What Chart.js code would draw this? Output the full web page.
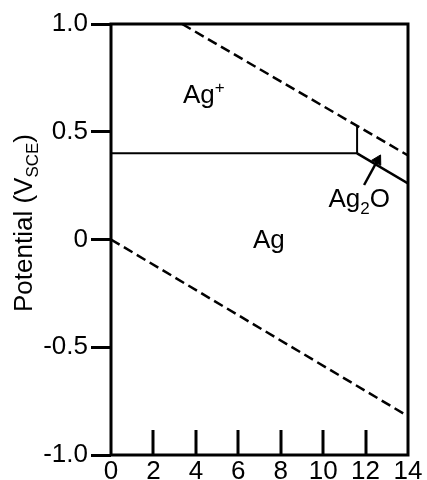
<!DOCTYPE html>
<html><head><meta charset="utf-8">
<script src="https://cdn.jsdelivr.net/npm/chart.js@4"></script>
<style>html,body{margin:0;padding:0;background:#fff}#wrap{width:427px;height:480px}</style>
</head><body><div id="wrap"><canvas id="c" width="427" height="480"></canvas></div>
<script>
// ---- data ----
const xTicks = [0, 2, 4, 6, 8, 10, 12, 14];
const yTicks = [-1.0, -0.5, 0, 0.5, 1.0];
const upperWaterX = [3.35, 14];   const upperWaterY = [1.0, 0.39];
const lowerWaterX = [0, 14];      const lowerWaterY = [0, -0.82];
const agIonX = [0, 11.6];         const agIonY = [0.40, 0.40];
const ionOxideX = [11.6, 11.6];   const ionOxideY = [0.40, 0.53];
const agOxideX = [11.6, 14];      const agOxideY = [0.40, 0.26];
const arrowX = [11.93, 12.57];    const arrowY = [0.253, 0.368];
const labelMain = ['Ag', 'Ag', 'Ag'];
const labelScript = ['+', '', '2'];
const labelScriptKind = ['sup', '', 'sub'];
const labelTail = ['', '', 'O'];
const labelX = [3.39, 6.69, 10.25];
const labelY = [0.633, -0.039, 0.151];
const yTitleMain = 'Potential (V';
const yTitleSub = 'SCE';
const yTitleTail = ')';

const FONT = "'Liberation Sans', Arial, sans-serif";
Chart.defaults.font.family = FONT;
Chart.defaults.color = '#000';

const pts = (xs, ys) => xs.map((x, i) => ({x, y: ys[i]}));
const line = (xs, ys, extra) => Object.assign({
  data: pts(xs, ys), showLine: true, borderColor: '#000', backgroundColor: '#000',
  borderWidth: 2, pointRadius: 0, fill: false, tension: 0
}, extra || {});

const framePlugin = {
  id: 'frame',
  afterDatasetsDraw(chart) {
    const {ctx, chartArea: a, scales: {x, y}} = chart;
    ctx.save();
    ctx.strokeStyle = '#000';
    ctx.lineWidth = 3;
    ctx.strokeRect(a.left, a.top, a.right - a.left, a.bottom - a.top);
    // inward x tick marks
    xTicks.forEach(v => {
      if (v === xTicks[0] || v === xTicks[xTicks.length - 1]) return;
      const px = Math.round(x.getPixelForValue(v));
      ctx.beginPath();
      ctx.moveTo(px, a.bottom);
      ctx.lineTo(px, a.bottom - 25);
      ctx.stroke();
    });
    // region labels
    ctx.fillStyle = '#000';
    ctx.textBaseline = 'alphabetic';
    ctx.textAlign = 'left';
    labelMain.forEach((t, i) => {
      let px = x.getPixelForValue(labelX[i]);
      const py = y.getPixelForValue(labelY[i]);
      ctx.font = '26px ' + FONT;
      ctx.fillText(t, px, py);
      px += ctx.measureText(t).width;
      if (labelScript[i]) {
        ctx.font = '17px ' + FONT;
        const dy = labelScriptKind[i] === 'sup' ? -10 : 7;
        ctx.fillText(labelScript[i], px, py + dy);
        px += ctx.measureText(labelScript[i]).width;
      }
      if (labelTail[i]) {
        ctx.font = '26px ' + FONT;
        ctx.fillText(labelTail[i], px, py);
      }
    });
    ctx.restore();
  },
  afterDraw(chart) {
    const {ctx} = chart;
    ctx.save();
    ctx.fillStyle = '#000';
    ctx.textBaseline = 'alphabetic';
    ctx.textAlign = 'left';
    const mainF = '26px ' + FONT, subF = '17px ' + FONT;
    ctx.font = mainF; const w1 = ctx.measureText(yTitleMain).width; const w3 = ctx.measureText(yTitleTail).width;
    ctx.font = subF; const w2 = ctx.measureText(yTitleSub).width;
    const total = w1 + w2 + w3;
    ctx.translate(32, 223);
    ctx.rotate(-Math.PI / 2);
    let p = -total / 2;
    ctx.font = mainF; ctx.fillText(yTitleMain, p, 0); p += w1;
    ctx.font = subF; ctx.fillText(yTitleSub, p, 6); p += w2;
    ctx.font = mainF; ctx.fillText(yTitleTail, p, 0);
    ctx.restore();
  }
};

new Chart(document.getElementById('c'), {
  type: 'scatter',
  data: {
    datasets: [
      line(upperWaterX, upperWaterY, {borderDash: [10, 5], borderWidth: 2.5}),
      line(lowerWaterX, lowerWaterY, {borderDash: [10, 5], borderWidth: 2.5}),
      line(agIonX, agIonY),
      line(ionOxideX, ionOxideY),
      line(agOxideX, agOxideY, {borderWidth: 2.5}),
      line(arrowX, arrowY, {borderWidth: 2.5, pointRadius: [0, 6], pointStyle: 'triangle',
        rotation: 29, pointBorderWidth: 1, pointBackgroundColor: '#000', pointBorderColor: '#000'})
    ]
  },
  options: {
    responsive: false,
    animation: false,
    devicePixelRatio: 1,
    layout: {padding: {top: 24, right: 19, left: 0, bottom: 0}},
    plugins: {legend: {display: false}, tooltip: {enabled: false}},
    scales: {
      x: {
        type: 'linear', min: 0, max: 14,
        afterBuildTicks: s => { s.ticks = xTicks.map(v => ({value: v})); },
        afterFit: s => { s.height = 25; },
        grid: {display: false},
        border: {display: false},
        ticks: {font: {size: 26}, padding: -7, color: '#000', maxRotation: 0, callback: v => String(v)}
      },
      y: {
        type: 'linear', min: -1, max: 1,
        afterBuildTicks: s => { s.ticks = yTicks.map(v => ({value: v})); },
        afterFit: s => { s.width = 111; },
        grid: {drawOnChartArea: false, drawTicks: true, tickLength: 20, tickWidth: 3, tickColor: '#000'},
        border: {display: false},
        ticks: {font: {size: 26}, padding: 3, color: '#000', callback: v => (v === 0 ? '0' : v.toFixed(1))}
      }
    }
  },
  plugins: [framePlugin]
});
</script>
</body></html>
